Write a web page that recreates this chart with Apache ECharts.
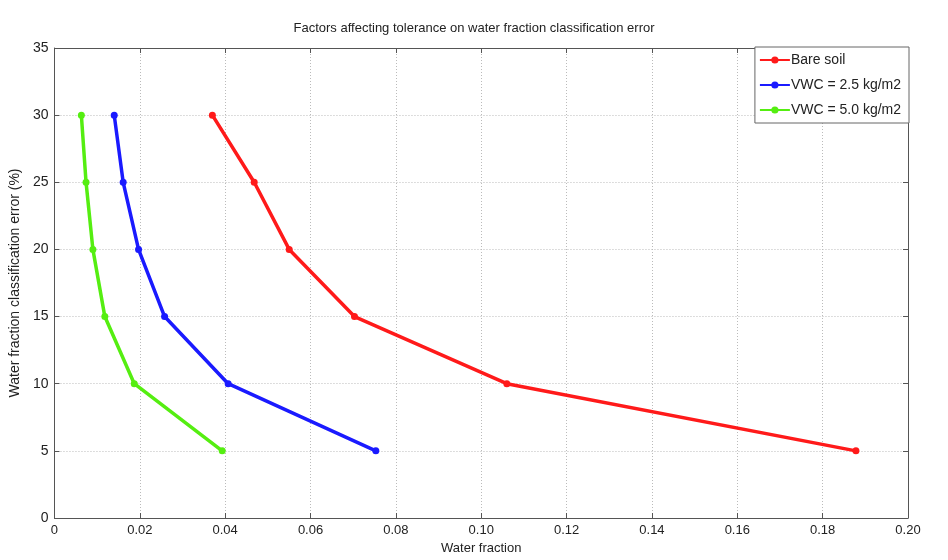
<!DOCTYPE html>
<html>
<head>
<meta charset="utf-8">
<script src="https://cdn.jsdelivr.net/npm/echarts@6/dist/echarts.min.js"></script>
<style>
  html, body { margin: 0; padding: 0; background: #fff; }
  #chart { width: 948px; height: 560px; }
</style>
</head>
<body>
<div id="chart"></div>
<script>
// Error levels (%) at which the tolerated water fraction was evaluated
const errorLevels = [30, 25, 20, 15, 10, 5];

// Tolerated water fraction for each surface condition
const bareSoil = [0.0370, 0.0468, 0.0550, 0.0703, 0.1060, 0.1878];
const vwc25 = [0.0140, 0.0161, 0.0197, 0.0258, 0.0407, 0.0753];
const vwc50 = [0.0063, 0.0074, 0.0090, 0.0118, 0.0187, 0.0393];

const seriesNames = ['Bare soil', 'VWC = 2.5 kg/m2', 'VWC = 5.0 kg/m2'];
const seriesColors = ['#ff1a1a', '#1a1aff', '#55ee11'];

const pairs = (xs) => xs.map((x, i) => [x, errorLevels[i]]);

const textColor = '#222';
const fontFam = 'Arial, "Liberation Sans", sans-serif';

const chart = echarts.init(document.getElementById('chart'));

const gridLine = { show: true, lineStyle: { color: '#bbb', type: [1, 2], width: 1 } };
const frame = { show: true, onZero: false, lineStyle: { color: '#555', width: 1 } };

chart.setOption({
  animation: false,
  backgroundColor: '#fff',
  title: {
    text: 'Factors affecting tolerance on water fraction classification error',
    left: 'center',
    top: 17,
    textStyle: { color: textColor, fontSize: 13, fontWeight: 'normal', fontFamily: fontFam }
  },
  legend: {
    orient: 'vertical',
    right: 39,
    top: 47,
    padding: [6, 8, 6, 4],
    itemGap: 11,
    itemWidth: 30,
    itemHeight: 9,
    backgroundColor: '#fff',
    borderColor: '#666',
    borderWidth: 1,
    textStyle: { color: textColor, fontSize: 14, fontFamily: fontFam, padding: [0, 0, 0, -4] },
    data: seriesNames
  },
  grid: { left: 53, right: 40, top: 48, bottom: 42, containLabel: false },
  xAxis: [{
    type: 'value',
    min: 0, max: 0.2, interval: 0.02,
    name: 'Water fraction',
    nameLocation: 'middle',
    nameGap: 22,
    nameTextStyle: { color: textColor, fontSize: 13, fontFamily: fontFam },
    axisLine: frame,
    axisTick: { show: true, inside: true, length: 5, lineStyle: { color: '#555' } },
    axisLabel: {
      color: textColor, fontSize: 13, fontFamily: fontFam, margin: 6,
      formatter: (v) => v === 0 ? '0' : v.toFixed(2)
    },
    splitLine: gridLine
  }, {
    type: 'value', position: 'top',
    min: 0, max: 0.2, interval: 0.02,
    axisLine: frame,
    axisTick: { show: true, inside: true, length: 5, lineStyle: { color: '#555' } },
    axisLabel: { show: false },
    splitLine: { show: false }
  }],
  yAxis: [{
    type: 'value',
    min: 0, max: 35, interval: 5,
    name: 'Water fraction classification error (%)',
    nameLocation: 'middle',
    nameGap: 31,
    nameTextStyle: { color: textColor, fontSize: 14, fontFamily: fontFam },
    axisLine: frame,
    axisTick: { show: true, inside: true, length: 5, lineStyle: { color: '#555' } },
    axisLabel: { color: textColor, fontSize: 14, fontFamily: fontFam, margin: 6 },
    splitLine: gridLine
  }, {
    type: 'value', position: 'right',
    min: 0, max: 35, interval: 5,
    axisLine: frame,
    axisTick: { show: true, inside: true, length: 5, lineStyle: { color: '#555' } },
    axisLabel: { show: false },
    splitLine: { show: false }
  }],
  series: [bareSoil, vwc25, vwc50].map((xs, i) => ({
    name: seriesNames[i],
    type: 'line',
    data: pairs(xs),
    symbol: 'circle',
    symbolSize: 7,
    color: seriesColors[i],
    lineStyle: { width: 3.5, color: seriesColors[i] },
    itemStyle: { color: seriesColors[i] }
  }))
});
</script>
</body>
</html>
